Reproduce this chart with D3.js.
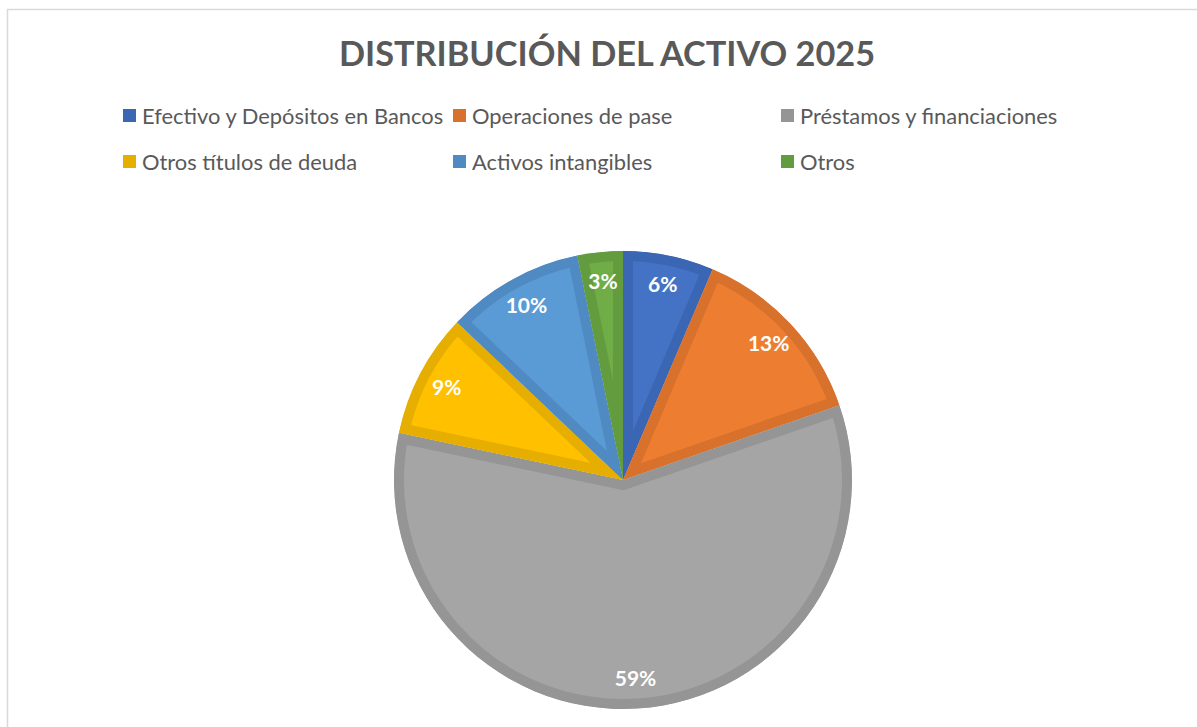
<!DOCTYPE html>
<html>
<head>
<meta charset="utf-8">
<script src="https://cdn.jsdelivr.net/npm/d3@7"></script>
<style>
    html, body { margin: 0; padding: 0; background: #ffffff; }
    svg { display: block; }
</style>
</head>
<body>
<div id="chart-container"></div>
<script>
// Chart data
const title = 'DISTRIBUCIÓN DEL ACTIVO 2025';
const categories = [
    'Efectivo y Depósitos en Bancos',
    'Operaciones de pase',
    'Préstamos y financiaciones',
    'Otros títulos de deuda',
    'Activos intangibles',
    'Otros'
];
// share of total assets (%)
const shares = [6.4, 13.3, 58.6, 8.8, 9.7, 3.2];
const fillColors = ['#4472C4', '#ED7D31', '#A5A5A5', '#FFC000', '#5B9BD5', '#70AD47'];
const edgeColors = ['#3B66B3', '#D8712C', '#959595', '#E6AE00', '#4F8AC2', '#629C3E'];

const width = 1197;
const height = 727;

const svg = d3.select('#chart-container')
    .append('svg')
    .attr('width', width)
    .attr('height', height);

// chart area frame (bottom and right run past the window)
svg.append('rect')
    .attr('x', 7.5)
    .attr('y', 9.5)
    .attr('width', 1200)
    .attr('height', 740)
    .attr('fill', '#ffffff')
    .attr('stroke', '#D9D9D9')
    .attr('stroke-width', 1.5);

// Title
svg.append('text')
    .attr('x', 607)
    .attr('y', 66)
    .attr('text-anchor', 'middle')
    .attr('font-family', 'Lato, "Open Sans", sans-serif')
    .attr('font-weight', 'bold')
    .attr('font-size', '34.3px')
    .attr('fill', '#595959')
    .text(title);

// Legend, 3 columns x 2 rows
const legendCols = [123, 453, 781];
const legendRows = [116, 162];
const legend = svg.append('g')
    .selectAll('g')
    .data(categories)
    .join('g')
    .attr('transform', (d, i) => `translate(${legendCols[i % 3]},${legendRows[Math.floor(i / 3)]})`);

legend.append('rect')
    .attr('x', 0)
    .attr('y', -7)
    .attr('width', 13)
    .attr('height', 13)
    .attr('fill', (d, i) => edgeColors[i]);

legend.append('text')
    .attr('x', 19)
    .attr('y', 0)
    .attr('dy', '0.35em')
    .attr('font-family', 'Lato, "Open Sans", sans-serif')
    .attr('font-size', '21.9px')
    .attr('fill', '#595959')
    .text(d => d);

// Pie
const cx = 623, cy = 480, radius = 229;

const pie = d3.pie()
    .sort(null)
    .value(d => d);

const arcs = pie(shares);

const arc = d3.arc()
    .innerRadius(0)
    .outerRadius(radius);

const labelArc = d3.arc()
    .innerRadius(radius * 0.87)
    .outerRadius(radius * 0.87);

const pieGroup = svg.append('g')
    .attr('transform', `translate(${cx},${cy})`);

const defs = svg.append('defs');
defs.selectAll('clipPath')
    .data(arcs)
    .join('clipPath')
    .attr('id', (d, i) => `slice-clip-${i}`)
    .append('path')
    .attr('d', arc);

// each slice: fill plus a darker inner edge band (stroke clipped to the slice)
pieGroup.selectAll('path.slice')
    .data(arcs)
    .join('path')
    .attr('class', 'slice')
    .attr('d', arc)
    .attr('fill', (d, i) => fillColors[i])
    .attr('stroke', (d, i) => edgeColors[i])
    .attr('stroke-width', 20)
    .attr('stroke-linejoin', 'miter')
    .attr('clip-path', (d, i) => `url(#slice-clip-${i})`);

// Data labels
pieGroup.selectAll('text.label')
    .data(arcs)
    .join('text')
    .attr('class', 'label')
    .attr('transform', d => `translate(${labelArc.centroid(d)})`)
    .attr('text-anchor', 'middle')
    .attr('dy', '0.35em')
    .attr('font-family', 'Lato, "Open Sans", sans-serif')
    .attr('font-weight', 'bold')
    .attr('font-size', '21px')
    .attr('fill', '#ffffff')
    .text(d => `${Math.round(d.data)}%`);
</script>
</body>
</html>
